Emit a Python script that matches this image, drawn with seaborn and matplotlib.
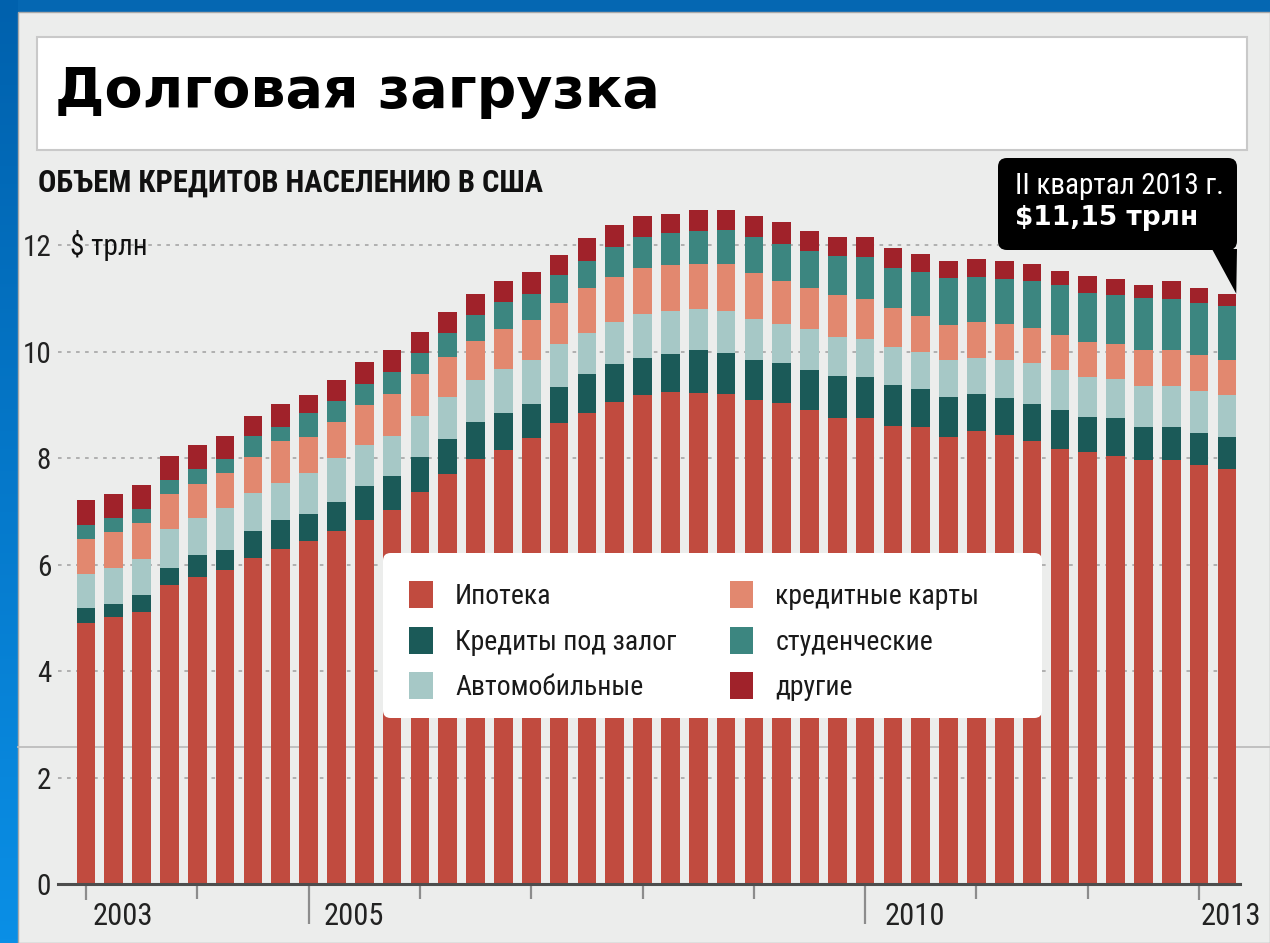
import numpy as np
import pandas as pd
import seaborn as sns
import matplotlib
matplotlib.use("Agg")
import matplotlib.pyplot as plt
from matplotlib.patches import Rectangle, FancyBboxPatch, Polygon, Patch
from matplotlib.lines import Line2D
from matplotlib.colors import LinearSegmentedColormap

# ---------------- data (трлн $) ----------------
quarters = [f"{y} Q{q}" for y in range(2003, 2014) for q in range(1, 5)][:42]

mortgage = [4.90, 5.02, 5.11, 5.61, 5.77, 5.90, 6.13, 6.30, 6.44, 6.63, 6.84, 7.02,
            7.37, 7.70, 7.99, 8.16, 8.37, 8.66, 8.85, 9.05, 9.19, 9.25, 9.23, 9.20,
            9.09, 9.03, 8.91, 8.75, 8.76, 8.61, 8.58, 8.40, 8.51, 8.44, 8.33, 8.18,
            8.12, 8.04, 7.97, 7.97, 7.88, 7.79]
home_equity = [0.28, 0.24, 0.32, 0.33, 0.42, 0.37, 0.50, 0.54, 0.52, 0.55, 0.63, 0.64,
               0.65, 0.66, 0.68, 0.69, 0.64, 0.67, 0.73, 0.71, 0.70, 0.70, 0.80, 0.78,
               0.76, 0.76, 0.74, 0.80, 0.77, 0.77, 0.72, 0.75, 0.69, 0.69, 0.68, 0.73,
               0.66, 0.72, 0.62, 0.62, 0.60, 0.60]
auto = [0.65, 0.68, 0.68, 0.72, 0.68, 0.80, 0.72, 0.70, 0.76, 0.83, 0.77, 0.76,
        0.77, 0.79, 0.79, 0.82, 0.84, 0.81, 0.77, 0.79, 0.81, 0.81, 0.77, 0.78,
        0.76, 0.73, 0.77, 0.72, 0.70, 0.71, 0.69, 0.70, 0.69, 0.72, 0.78, 0.74,
        0.75, 0.73, 0.77, 0.77, 0.78, 0.79]
credit_card = [0.65, 0.67, 0.68, 0.66, 0.65, 0.66, 0.67, 0.79, 0.68, 0.67, 0.75, 0.78,
               0.79, 0.75, 0.75, 0.76, 0.74, 0.78, 0.85, 0.85, 0.87, 0.86, 0.84, 0.88,
               0.86, 0.81, 0.78, 0.79, 0.76, 0.74, 0.68, 0.66, 0.67, 0.67, 0.66, 0.67,
               0.65, 0.65, 0.68, 0.68, 0.67, 0.67]
student = [0.26, 0.27, 0.26, 0.27, 0.28, 0.26, 0.39, 0.26, 0.44, 0.40, 0.41, 0.41,
           0.39, 0.45, 0.48, 0.50, 0.50, 0.52, 0.51, 0.57, 0.58, 0.61, 0.62, 0.65,
           0.69, 0.69, 0.69, 0.74, 0.79, 0.74, 0.82, 0.88, 0.84, 0.85, 0.87, 0.94,
           0.92, 0.92, 0.96, 0.95, 0.99, 1.01]
other = [0.47, 0.44, 0.45, 0.45, 0.45, 0.43, 0.39, 0.43, 0.34, 0.39, 0.40, 0.43,
         0.40, 0.40, 0.40, 0.39, 0.41, 0.38, 0.43, 0.41, 0.39, 0.35, 0.40, 0.37,
         0.39, 0.42, 0.38, 0.36, 0.38, 0.38, 0.34, 0.32, 0.35, 0.33, 0.33, 0.25,
         0.32, 0.31, 0.26, 0.34, 0.28, 0.23]

series_names = ["Ипотека", "Кредиты под залог", "Автомобильные",
                "кредитные карты", "студенческие", "другие"]
series_colors = ["#c14b3f", "#1b5a58", "#a6c8c6", "#e2886f", "#3c8680", "#a0222a"]
year_labels = ["2003", "2005", "2010", "2013"]
callout_lines = ["II квартал 2013 г.", "$11,15 трлн"]

# ---------------- layout helpers ----------------
W, H = 1270, 943
def fx(px):
    return px / W
def fy(py):
    return 1 - py / H

NARROW = ["Liberation Sans Narrow", "Roboto Condensed", "Roboto", "DejaVu Sans"]
plt.rcParams["font.family"] = ["DejaVu Sans"]

fig = plt.figure(figsize=(W / 100, H / 100), dpi=100)
fig.patch.set_facecolor("#0567b2")

# left blue gradient strip
gax = fig.add_axes([0, 0, fx(18), 1])
gax.imshow(np.linspace(0, 1, 256).reshape(-1, 1), aspect="auto",
           cmap=LinearSegmentedColormap.from_list("b", ["#0061ad", "#0a8fe6"]))
gax.axis("off")
gax.set_zorder(-10)

# grey panel
fig.add_artist(Rectangle((fx(18), 0), 1 - fx(18), fy(12), transform=fig.transFigure,
                         fc="#ecedec", ec="#a9a9a9", lw=1.0, zorder=-5))
# white title box
fig.add_artist(Rectangle((fx(37), fy(150)), fx(1247) - fx(37), fy(37) - fy(150),
                         transform=fig.transFigure, fc="white", ec="#c9c9c9", lw=1.5,
                         zorder=-4))
# thin separator line
fig.add_artist(Line2D([fx(18), 1], [fy(747), fy(747)], transform=fig.transFigure,
                      color="#bdbdbd", lw=1.3, zorder=-3))

fig.text(fx(55), fy(92), "Долговая загрузка", fontsize=40, fontweight="heavy",
         va="center", ha="left", color="black")
fig.text(fx(38), fy(183), "ОБЪЕМ КРЕДИТОВ НАСЕЛЕНИЮ В США", fontsize=22,
         fontweight="bold", family=NARROW, va="center", ha="left", color="#111")

# ---------------- main axes ----------------
ax = fig.add_axes([fx(58), fy(884), fx(1240) - fx(58), 692 / H])
ax.set_facecolor("none")

layers = np.array([mortgage, home_equity, auto, credit_card, student, other])
cum = np.cumsum(layers, axis=0)
df = pd.DataFrame({"quarter": quarters})
for i in range(len(series_names) - 1, -1, -1):
    df["v"] = cum[i]
    sns.barplot(data=df, x="quarter", y="v", color=series_colors[i], saturation=1,
                width=0.67, linewidth=0, errorbar=None, ax=ax, zorder=2)

n = len(quarters)
ax.set_xlim(-1.006, n - 1 + 0.47)
ax.set_ylim(0, 13)
ax.set_xlabel("")
ax.set_ylabel("")

# y axis
ax.set_yticks(np.arange(0, 13, 2))
ax.set_yticklabels([str(v) for v in range(0, 13, 2)], family=NARROW, fontsize=21,
                   color="#222")
ax.tick_params(axis="y", length=0, pad=5)
ax.yaxis.grid(True, linestyle=(0, (2.0, 3)), color="#ababab", lw=1.3)
ax.set_axisbelow(True)
for s in ["left", "right", "top"]:
    ax.spines[s].set_visible(False)
ax.spines["bottom"].set_color("#4d4d4d")
ax.spines["bottom"].set_linewidth(2.2)
ax.spines["bottom"].set_zorder(3)

# x axis ticks (year starts)
year_pos = [quarters.index(f"{y} Q1") for y in range(2003, 2014)]
label_pos = [quarters.index(f"{y} Q1") for y in year_labels]
ax.set_xticks(label_pos)
ax.set_xticklabels([])
ax.set_xticks([p for p in year_pos if p not in label_pos], minor=True)
ax.tick_params(axis="x", which="both", direction="out", color="#8c8c8c", width=1.6)
ax.tick_params(axis="x", which="minor", length=11)
long_ticks = {"2005", "2010"}
for t, lab in zip(ax.xaxis.get_major_ticks(), year_labels):
    t.tick1line.set_markersize(29 if lab in long_ticks else 11.5)
label_shift = [0.25, 0.55, 0.7, 0.05]
for p, lab, sh in zip(label_pos, year_labels, label_shift):
    ax.text(p + sh, -0.047, lab, transform=ax.get_xaxis_transform(), ha="left",
            va="center", family=NARROW, fontsize=22, color="#222")

ax.text(-0.57, 12, "$ трлн", ha="left", va="center", family=NARROW, fontsize=21,
        color="#111")

# legend: white rounded panel + figure-level legend on top of the bars
fig.add_artist(FancyBboxPatch((fx(383), fy(718)), fx(1042) - fx(383), fy(553) - fy(718),
                              boxstyle="round,pad=0,rounding_size=0.006",
                              mutation_aspect=W / H, transform=fig.transFigure,
                              fc="white", ec="none", zorder=4))
handles = [Patch(facecolor=c, edgecolor="none") for c in series_colors]
leg = fig.legend(handles, series_names, ncol=2, loc="upper left",
                 bbox_to_anchor=(fx(383), fy(555)), borderaxespad=0, frameon=False,
                 prop={"family": NARROW, "size": 20},
                 handlelength=0.85, handleheight=1.1, handletextpad=0.8,
                 columnspacing=1.9, labelspacing=0.6, borderpad=0.95)
leg.set_zorder(5)
for txt in leg.get_texts():
    txt.set_color("#1a1a1a")

# ---------------- callout ----------------
fig.add_artist(FancyBboxPatch((fx(998), fy(250)), fx(1237) - fx(998), fy(158) - fy(250),
                              boxstyle="round,pad=0,rounding_size=0.007",
                              mutation_aspect=W / H, transform=fig.transFigure,
                              fc="black", ec="none", zorder=10))
tip = ax.transData.transform((n - 1 + 0.335, cum[-1][-1]))
tip_f = fig.transFigure.inverted().transform(tip)
fig.add_artist(Polygon([(fx(1212), fy(249)), (fx(1237), fy(249)), tuple(tip_f)],
                       closed=True, transform=fig.transFigure, fc="black", ec="none",
                       zorder=10))
fig.text(fx(1015), fy(186), callout_lines[0], color="white", fontsize=21,
         family=NARROW, va="center", ha="left", zorder=11)
fig.text(fx(1015), fy(218), callout_lines[1], color="white", fontsize=19,
         fontweight="bold", va="center", ha="left", zorder=11)

fig.savefig("out.png", dpi=100, facecolor=fig.get_facecolor())
